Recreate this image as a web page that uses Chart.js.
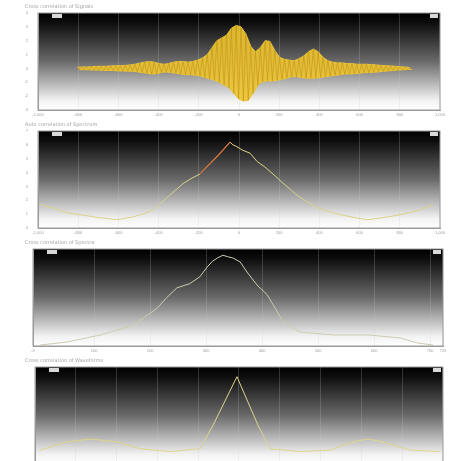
<!DOCTYPE html>
<html lang="en">
  <head>
    <meta charset="UTF-8" />
    <title>Correlation panels</title>
    <script src="https://cdn.jsdelivr.net/npm/chart.js"></script>
    <style>
      html, body { margin: 0; padding: 0; background: #fff; width: 450px; height: 461px; overflow: hidden; }
      .Panel { position: absolute; left: 0; width: 450px; height: 118px; }
    </style>
  </head>
  <body>
    <div class="Panel" style="top:0px"><canvas id="c1"></canvas></div>
    <div class="Panel" style="top:118px"><canvas id="c2"></canvas></div>
    <div class="Panel" style="top:236px"><canvas id="c3"></canvas></div>
    <div class="Panel" style="top:354px"><canvas id="c4"></canvas></div>

    <script>
      // panel titles (barely legible in the reference)
      const titles = [
        "Cross correlation of Signals",
        "Auto correlation of Spectrum",
        "Cross correlation of Spectra",
        "Cross correlation of Waveforms",
      ];

      // panel 1: oscillating cross-correlation, upper and lower swings
      const lagStart = -806;
      const lagStep = 12;
      const peaks = [
        0.08, 0.1, 0.1, 0.12, 0.15, 0.15, 0.15, 0.18, 0.2, 0.2,
        0.22, 0.25, 0.3, 0.38, 0.45, 0.5, 0.45, 0.35, 0.3, 0.35,
        0.45, 0.5, 0.5, 0.45, 0.5, 0.6, 0.75, 1.0, 1.5, 2.0,
        2.2, 2.4, 2.9, 3.1, 3.0, 2.5, 1.6, 1.2, 1.5, 2.0,
        1.95, 1.3, 0.8, 0.65, 0.6, 0.55, 0.7, 0.9, 1.2, 1.4,
        1.2, 0.8, 0.55, 0.45, 0.4, 0.4, 0.35, 0.35, 0.3, 0.3,
        0.3, 0.28, 0.25, 0.22, 0.2, 0.18, 0.15, 0.12, 0.1, 0.06,
      ];
      const troughs = [
        -0.08, -0.1, -0.1, -0.12, -0.12, -0.15, -0.15, -0.15, -0.18, -0.18,
        -0.2, -0.2, -0.25, -0.3, -0.35, -0.4, -0.38, -0.3, -0.25, -0.3,
        -0.35, -0.4, -0.45, -0.45, -0.5, -0.55, -0.65, -0.75, -0.85, -1.0,
        -1.2, -1.4, -1.8, -2.2, -2.35, -2.3, -1.8, -1.2, -0.95, -0.9,
        -0.9, -0.85, -0.8, -0.7, -0.6, -0.6, -0.65, -0.7, -0.7, -0.7,
        -0.65, -0.6, -0.55, -0.5, -0.45, -0.4, -0.4, -0.38, -0.35, -0.3,
        -0.3, -0.28, -0.25, -0.2, -0.18, -0.15, -0.12, -0.1, -0.08, -0.05,
      ];

      // panel 2: broad triangular peak
      const lags2 = [
        -990, -915, -856, -766, -692, -607, -527, -443, -403, -358,
        -318, -279, -234, -194, -154, -109, -75, -45, -30, -15,
        20, 55, 90, 129, 169, 214, 254, 294, 338, 378,
        418, 502, 577, 637, 716, 801, 900, 965,
      ];
      const values2 = [
        1.7, 1.4, 1.1, 0.9, 0.74, 0.6, 0.8, 1.18, 1.6, 2.2,
        2.7, 3.2, 3.6, 3.9, 4.5, 5.16, 5.7, 6.2, 6.0, 5.9,
        5.6, 5.4, 4.8, 4.4, 3.9, 3.3, 2.8, 2.3, 1.9, 1.55,
        1.3, 0.96, 0.75, 0.6, 0.74, 0.96, 1.3, 1.7,
      ];
      const lagsRed = [-194, -154, -109, -75, -45];
      const valuesRed = [3.9, 4.5, 5.16, 5.7, 6.2];

      // panel 3: rounded hump
      const lags3 = [
        4, 52, 111, 170, 213, 230, 248, 271, 289, 302,
        311, 320, 330, 338, 348, 361, 373, 391, 409, 420,
        438, 468, 527, 588, 647, 677, 705,
      ];
      const values3 = [
        0.07, 0.29, 0.79, 1.5, 2.74, 3.5, 4.2, 4.5, 5.0, 5.7,
        6.1, 6.35, 6.55, 6.45, 6.35, 6.06, 5.34, 4.4, 3.7, 2.96,
        1.7, 1.0, 0.8, 0.8, 0.58, 0.22, 0.07,
      ];

      // panel 4: narrow spike
      const lags4 = [
        -975, -843, -730, -598, -485, -338, -191, -127, -10, 93,
        152, 299, 446, 559, 632, 706, 838, 985,
      ];
      const values4 = [
        1.0, 1.6, 1.8, 1.6, 1.1, 0.9, 1.1, 2.8, 6.3, 2.8,
        1.1, 0.9, 1.0, 1.6, 1.8, 1.6, 1.0, 0.9,
      ];

      const panelBackground = {
        id: "panelBackground",
        beforeDraw(chart) {
          const { ctx, chartArea: a } = chart;
          const g = ctx.createLinearGradient(0, a.top, 0, a.bottom);
          g.addColorStop(0, "#000");
          g.addColorStop(0.1, "#0d0d0d");
          g.addColorStop(0.5, "#6a6a6a");
          g.addColorStop(0.9, "#f2f2f2");
          g.addColorStop(1, "#fff");
          ctx.save();
          ctx.fillStyle = g;
          ctx.fillRect(a.left, a.top, a.right - a.left, a.bottom - a.top);
          ctx.restore();
        },
        afterDraw(chart) {
          const { ctx, chartArea: a } = chart;
          ctx.save();
          ctx.strokeStyle = "#9a9a9a";
          ctx.lineWidth = 1;
          ctx.strokeRect(a.left, a.top, a.right - a.left, a.bottom - a.top);
          ctx.fillStyle = "#d8d8d8";
          ctx.fillRect(a.left + 14, a.top + 1, 10, 4);
          ctx.fillRect(a.right - 10, a.top + 1, 8, 4);
          ctx.restore();
        },
      };

      const tickStyle = { color: "#a0a0a0", font: { size: 4 }, padding: 2, maxRotation: 0 };

      function makePanel(id, title, datasets, area, xScale, yScale) {
        const padLeft = 25;
        return new Chart(document.getElementById(id), {
          type: "line",
          data: { datasets },
          plugins: [panelBackground],
          options: {
            animation: false,
            responsive: true,
            maintainAspectRatio: false,
            layout: { padding: { left: padLeft, right: 450 - area.right, top: 0, bottom: 0 } },
            plugins: {
              legend: { display: false },
              tooltip: { enabled: false },
              title: {
                display: true,
                text: title,
                align: "start",
                color: "#a0a0a0",
                font: { size: 5, family: "DejaVu Sans", weight: "normal" },
                padding: { top: 4, bottom: 3 },
              },
            },
            elements: { point: { radius: 0 }, line: { tension: 0 } },
            scales: {
              x: Object.assign(
                {
                  type: "linear",
                  grid: { color: "rgba(200,200,200,0.22)", drawTicks: false },
                  border: { color: "#9a9a9a" },
                  afterFit: (s) => { s.height = 8; },
                },
                xScale
              ),
              y: Object.assign(
                {
                  grid: { display: false },
                  border: { color: "#9a9a9a" },
                  afterFit: (s) => { s.width = area.left - padLeft; },
                },
                yScale
              ),
            },
          },
        });
      }

      // panel 1 built from the swings: filled envelope plus the zig-zag strokes
      const upper1 = peaks.map((p, i) => ({ x: lagStart + lagStep * 2 * i, y: p }));
      const lower1 = troughs.map((t, i) => ({ x: lagStart + lagStep * (2 * i + 1), y: t }));
      const zigzag1 = [];
      peaks.forEach((p, i) => {
        zigzag1.push(upper1[i]);
        zigzag1.push(lower1[i]);
      });

      makePanel(
        "c1",
        titles[0],
        [
          {
            data: zigzag1,
            borderColor: "rgba(196,146,24,0.85)",
            borderWidth: 0.7,
            order: 0,
          },
          {
            data: upper1,
            borderColor: "#e9c43a",
            backgroundColor: "rgba(236,196,50,0.92)",
            borderWidth: 1,
            fill: "+1",
            order: 1,
          },
          {
            data: lower1,
            borderColor: "#e9c43a",
            borderWidth: 1,
            order: 2,
          },
        ],
        { left: 38, right: 440 },
        { min: -1000, max: 1000, ticks: Object.assign({ stepSize: 200 }, tickStyle) },
        { min: -3, max: 4, ticks: Object.assign({ stepSize: 1 }, tickStyle) }
      );

      makePanel(
        "c2",
        titles[1],
        [
          {
            data: lagsRed.map((x, i) => ({ x, y: valuesRed[i] })),
            borderColor: "#d06a3a",
            borderWidth: 1.2,
          },
          {
            data: lags2.map((x, i) => ({ x, y: values2[i] })),
            borderColor: "#d8d488",
            borderWidth: 1,
          },
        ],
        { left: 38, right: 440 },
        { min: -1000, max: 1000, ticks: Object.assign({ stepSize: 200 }, tickStyle) },
        { min: 0, max: 7, ticks: Object.assign({ stepSize: 1 }, tickStyle) }
      );

      makePanel(
        "c3",
        titles[2],
        [
          {
            data: lags3.map((x, i) => ({ x, y: values3[i] })),
            borderColor: "#cfcbb0",
            borderWidth: 1,
          },
        ],
        { left: 33, right: 443 },
        { min: -9, max: 723, ticks: Object.assign({ stepSize: 100 }, tickStyle) },
        { min: 0, max: 7, ticks: Object.assign({ stepSize: 1 }, tickStyle) }
      );

      makePanel(
        "c4",
        titles[3],
        [
          {
            data: lags4.map((x, i) => ({ x, y: values4[i] })),
            borderColor: "#dcd68c",
            borderWidth: 1,
          },
        ],
        { left: 35, right: 443 },
        { min: -1000, max: 1000, ticks: Object.assign({ stepSize: 200 }, tickStyle) },
        { min: 0, max: 7, ticks: Object.assign({ stepSize: 1 }, tickStyle) }
      );
    </script>
  </body>
</html>
